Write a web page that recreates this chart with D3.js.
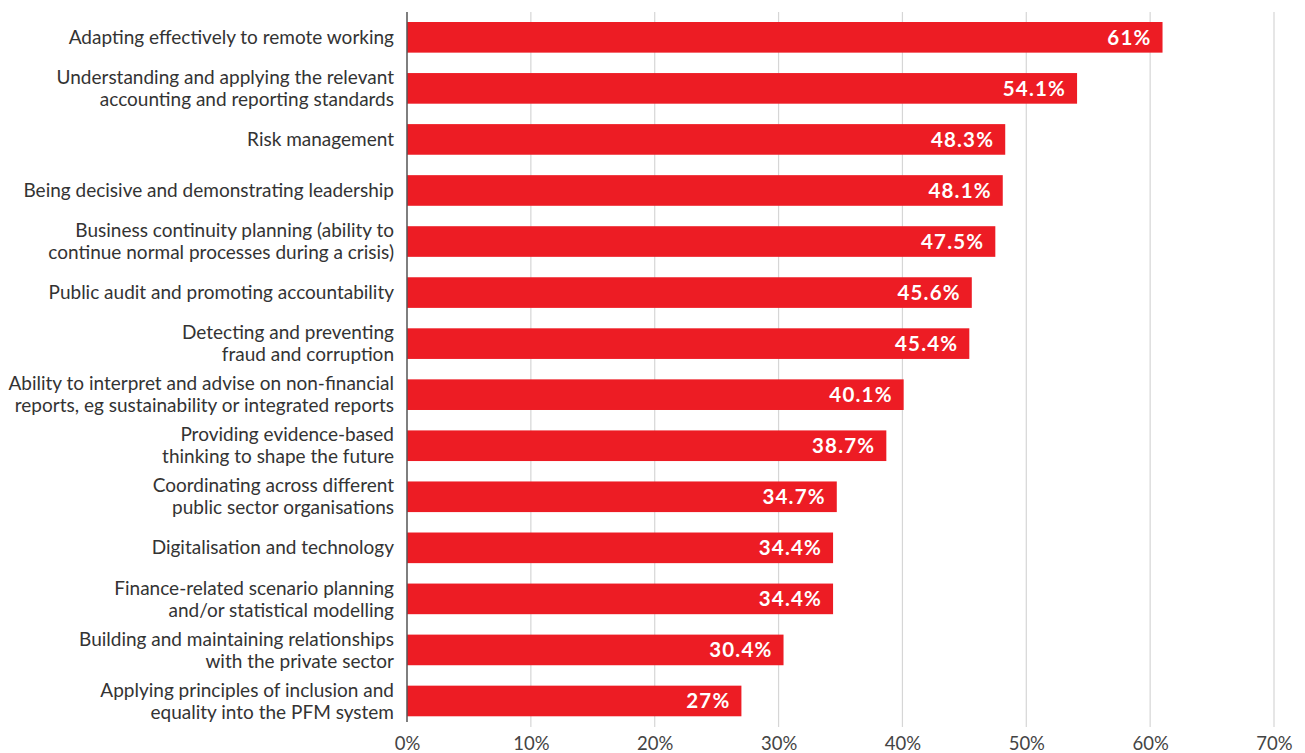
<!DOCTYPE html>
<html>
<head>
<meta charset="utf-8">
<script src="https://cdn.jsdelivr.net/npm/d3@7"></script>
<style>
  html, body { margin: 0; padding: 0; background: #fff; }
  svg { display: block; font-family: Lato, "Noto Sans", sans-serif; }
</style>
</head>
<body>
<svg id="chart" width="1305" height="753"></svg>
<script>
// Skill areas (label lines) and share of respondents, in percent
const categories = [
  ["Adapting effectively to remote working"],
  ["Understanding and applying the relevant", "accounting and reporting standards"],
  ["Risk management"],
  ["Being decisive and demonstrating leadership"],
  ["Business continuity planning (ability to", "continue normal processes during a crisis)"],
  ["Public audit and promoting accountability"],
  ["Detecting and preventing", "fraud and corruption"],
  ["Ability to interpret and advise on non-financial", "reports, eg sustainability or integrated reports"],
  ["Providing evidence-based", "thinking to shape the future"],
  ["Coordinating across different", "public sector organisations"],
  ["Digitalisation and technology"],
  ["Finance-related scenario planning", "and/or statistical modelling"],
  ["Building and maintaining relationships", "with the private sector"],
  ["Applying principles of inclusion and", "equality into the PFM system"]
];
const values = [61, 54.1, 48.3, 48.1, 47.5, 45.6, 45.4, 40.1, 38.7, 34.7, 34.4, 34.4, 30.4, 27];
const valueLabels = ["61%", "54.1%", "48.3%", "48.1%", "47.5%", "45.6%", "45.4%", "40.1%", "38.7%", "34.7%", "34.4%", "34.4%", "30.4%", "27%"];
const tickValues = [0, 10, 20, 30, 40, 50, 60, 70];

const svg = d3.select("#chart");
const plotLeft = 407, plotRight = 1274, plotTop = 12, plotBottom = 727;

const x = d3.scaleLinear().domain([0, 70]).range([plotLeft, plotRight]);
const y = d3.scaleBand()
  .domain(d3.range(categories.length))
  .range([11.8, 726.5])
  .paddingInner(0.4)
  .paddingOuter(0.2);

// vertical gridlines
svg.append("g").selectAll("line")
  .data(tickValues.filter(d => d > 0))
  .join("line")
  .attr("x1", d => x(d)).attr("x2", d => x(d))
  .attr("y1", plotTop).attr("y2", plotBottom)
  .attr("stroke", "#d6d6d6").attr("stroke-width", 1.2);

// bottom tick labels
const xAxis = d3.axisBottom(x).tickValues(tickValues).tickFormat(d => d + "%").tickSize(0).tickPadding(0);
const gx = svg.append("g").attr("transform", `translate(0,${plotBottom + 5})`).call(xAxis);
gx.select(".domain").remove();
gx.selectAll("text")
  .attr("font-family", "Lato, 'Noto Sans', sans-serif")
  .attr("font-size", 18.5)
  .attr("fill", "#444")
  .attr("dy", "0.95em");

// bars
svg.append("g").selectAll("rect")
  .data(values)
  .join("rect")
  .attr("x", x(0))
  .attr("y", (d, i) => y(i))
  .attr("width", d => x(d) - x(0))
  .attr("height", y.bandwidth())
  .attr("fill", "#ed1c24");

// value labels inside bar ends
svg.append("g").selectAll("text")
  .data(values)
  .join("text")
  .attr("x", d => x(d) - 11)
  .attr("y", (d, i) => y(i) + y.bandwidth() / 2)
  .attr("dy", "0.36em")
  .attr("text-anchor", "end")
  .attr("font-size", 20.5)
  .attr("letter-spacing", 1.2)
  .attr("font-weight", "bold")
  .attr("fill", "#fff")
  .text((d, i) => valueLabels[i]);

// category labels
const lineH = 22;
const cat = svg.append("g").selectAll("text")
  .data(categories)
  .join("text")
  .attr("text-anchor", "end")
  .attr("font-size", 19)
  .attr("fill", "#333")
  .attr("y", (d, i) => y(i) + y.bandwidth() / 2 - (d.length - 1) * lineH / 2);
cat.selectAll("tspan")
  .data(d => d)
  .join("tspan")
  .attr("x", 394)
  .attr("dy", (d, j) => j === 0 ? "0.35em" : lineH)
  .text(d => d);

// baseline axis
svg.append("line")
  .attr("x1", x(0)).attr("x2", x(0))
  .attr("y1", plotTop).attr("y2", plotBottom - 5)
  .attr("stroke", "#555").attr("stroke-width", 1.5);
</script>
</body>
</html>
